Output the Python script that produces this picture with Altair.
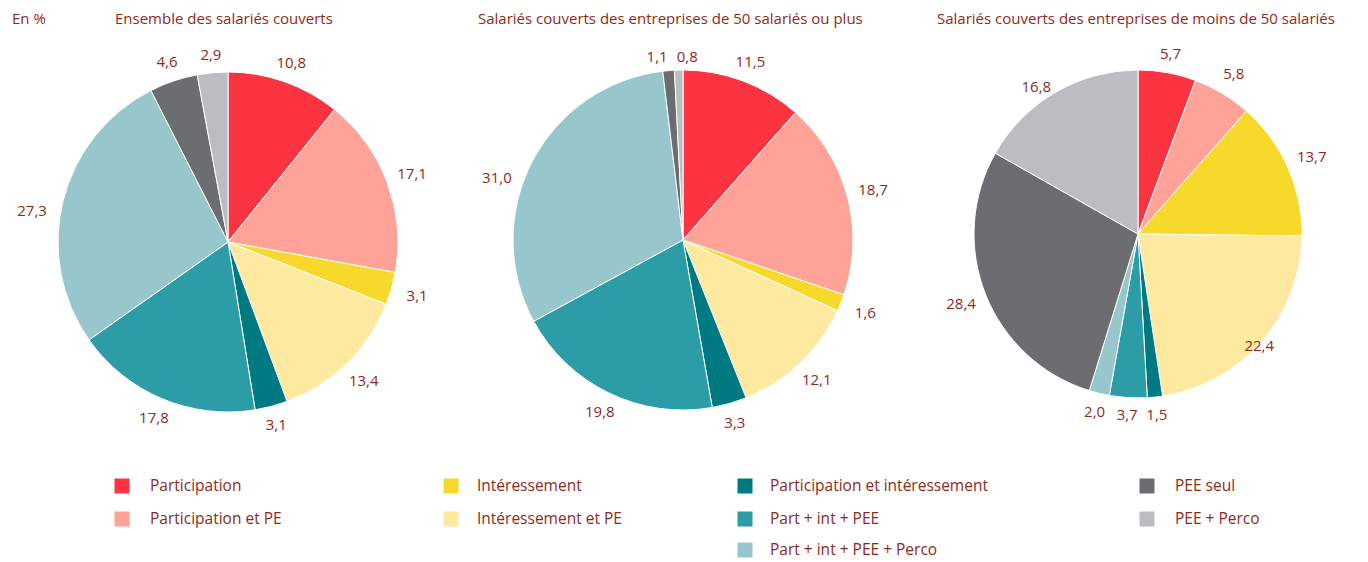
import math
import altair as alt
import pandas as pd

# ---------------- data ----------------
categories = [
    "Participation",
    "Participation et PE",
    "Intéressement",
    "Intéressement et PE",
    "Participation et intéressement",
    "Part + int + PEE",
    "Part + int + PEE + Perco",
    "PEE seul",
    "PEE + Perco",
]
colors = ["#FC3441", "#FFA399", "#F6D92A", "#FEE9A0", "#007A82",
          "#2C9CA6", "#97C6CD", "#6C6D71", "#BCBDC1"]

ensemble = [10.8, 17.1, 3.1, 13.4, 3.1, 17.8, 27.3, 4.6, 2.9]
plus50 = [11.5, 18.7, 1.6, 12.1, 3.3, 19.8, 31.0, 1.1, 0.8]
moins50 = [5.7, 5.8, 13.7, 22.4, 1.5, 3.7, 2.0, 28.4, 16.8]

pie_titles = [
    "Ensemble des salariés couverts",
    "Salariés couverts des entreprises de 50 salariés ou plus",
    "Salariés couverts des entreprises de moins de 50 salariés",
]
unit_label = "En %"

# legend arrangement (columns of category indices)
legend_columns = [[0, 1], [2, 3], [4, 5, 6], [7, 8]]

# ---------------- layout / style ----------------
W, H = 1368, 562
TXT = "#8E2A1A"
FONT = "Open Sans"
pies = [  # center x, center y, radius, title x
    (228, 242, 170, 115),
    (683, 240, 170, 478),
    (1138, 234, 164, 937),
]
# label placement tweaks: (pie, category index) -> (dx, dy)
nudges = {
    (0, 6): (-5, 16),
    (1, 6): (-12, 28),
    (1, 7): (-10, 4),
    (1, 8): (9, 4),
    (2, 8): (-8, 14),
    (2, 3): (-21, -12),
}
legend_sq_x = [122, 451, 745, 1147]
legend_txt_x = [150, 477, 770, 1175]
legend_row_y = [486, 519, 550]

series = [ensemble, plus50, moins50]
rows = []
for p, vals in enumerate(series):
    for i, v in enumerate(vals):
        rows.append({"pie": p, "idx": i, "cat": categories[i], "value": v,
                     "label": f"{v:.1f}".replace(".", ",")})
df = pd.DataFrame(rows)

color_scale = alt.Scale(domain=categories, range=colors)
layers = []
base = alt.Chart(df)

for p, (cx, cy, r, tx) in enumerate(pies):
    arcs = base.transform_filter(alt.datum.pie == p).mark_arc(
        outerRadius=r, stroke="white", strokeWidth=1
    ).encode(
        theta=alt.Theta("value:Q", stack="normalize"),
        color=alt.Color("cat:N", scale=color_scale, legend=None),
        order=alt.Order("idx:Q"),
        x=alt.value(cx), y=alt.value(cy),
    )
    layers.append(arcs)

    lab_base = base.transform_filter(alt.datum.pie == p).transform_stack(
        stack="value", as_=["v0", "v1"], groupby=[],
        sort=[alt.SortField("idx")], offset="normalize",
    ).transform_calculate(
        mid="(datum.v0 + datum.v1) / 2",
    ).transform_calculate(
        rad=f"{r} + 17 + abs(sin(2 * PI * datum.mid)) * 10"
    )
    enc = dict(
        theta=alt.Theta("mid:Q", stack=None,
                        scale=alt.Scale(domain=[0, 1], range=[0, 2 * math.pi])),
        radius=alt.Radius("rad:Q", scale=None),
        text=alt.Text("label:N"),
        x=alt.value(cx), y=alt.value(cy),
    )
    nudged = [i for (pp, i) in nudges if pp == p]
    main = lab_base
    if nudged:
        main = lab_base.transform_filter(f"indexof({nudged}, datum.idx) < 0")
    layers.append(main.mark_text(font=FONT, fontSize=15, color=TXT,
                                 baseline="middle", align="center").encode(**enc))
    for i in nudged:
        dx, dy = nudges[(p, i)]
        layers.append(lab_base.transform_filter(alt.datum.idx == i).mark_text(
            font=FONT, fontSize=15, color=TXT, baseline="middle", align="center",
            dx=dx, dy=dy).encode(**enc))

    # title
    tdf = pd.DataFrame({"t": [pie_titles[p]]})
    layers.append(alt.Chart(tdf).mark_text(
        font=FONT, fontSize=15, color=TXT, align="left", baseline="middle"
    ).encode(text="t:N", x=alt.value(tx), y=alt.value(19)))

layers.append(alt.Chart(pd.DataFrame({"t": [unit_label]})).mark_text(
    font=FONT, fontSize=15, color=TXT, align="left", baseline="middle"
).encode(text="t:N", x=alt.value(12), y=alt.value(19)))

# legend
for c, idxs in enumerate(legend_columns):
    ldf = pd.DataFrame({"cat": [categories[i] for i in idxs], "row": list(range(len(idxs)))})
    for rrow in range(len(idxs)):
        sub = alt.Chart(ldf).transform_filter(alt.datum.row == rrow)
        layers.append(sub.mark_square(size=225, opacity=1).encode(
            color=alt.Color("cat:N", scale=color_scale, legend=None),
            x=alt.value(legend_sq_x[c]), y=alt.value(legend_row_y[rrow])))
        layers.append(sub.mark_text(font=FONT, fontSize=15.5, color=TXT,
                                    align="left", baseline="middle").encode(
            text="cat:N", x=alt.value(legend_txt_x[c]), y=alt.value(legend_row_y[rrow])))

chart = alt.layer(*layers).properties(
    width=W, height=H, padding=0,
    autosize=alt.AutoSizeParams(type="none"),
).configure_view(stroke=None)

chart.save("out.html", embed_options={"renderer": "svg", "actions": False})
